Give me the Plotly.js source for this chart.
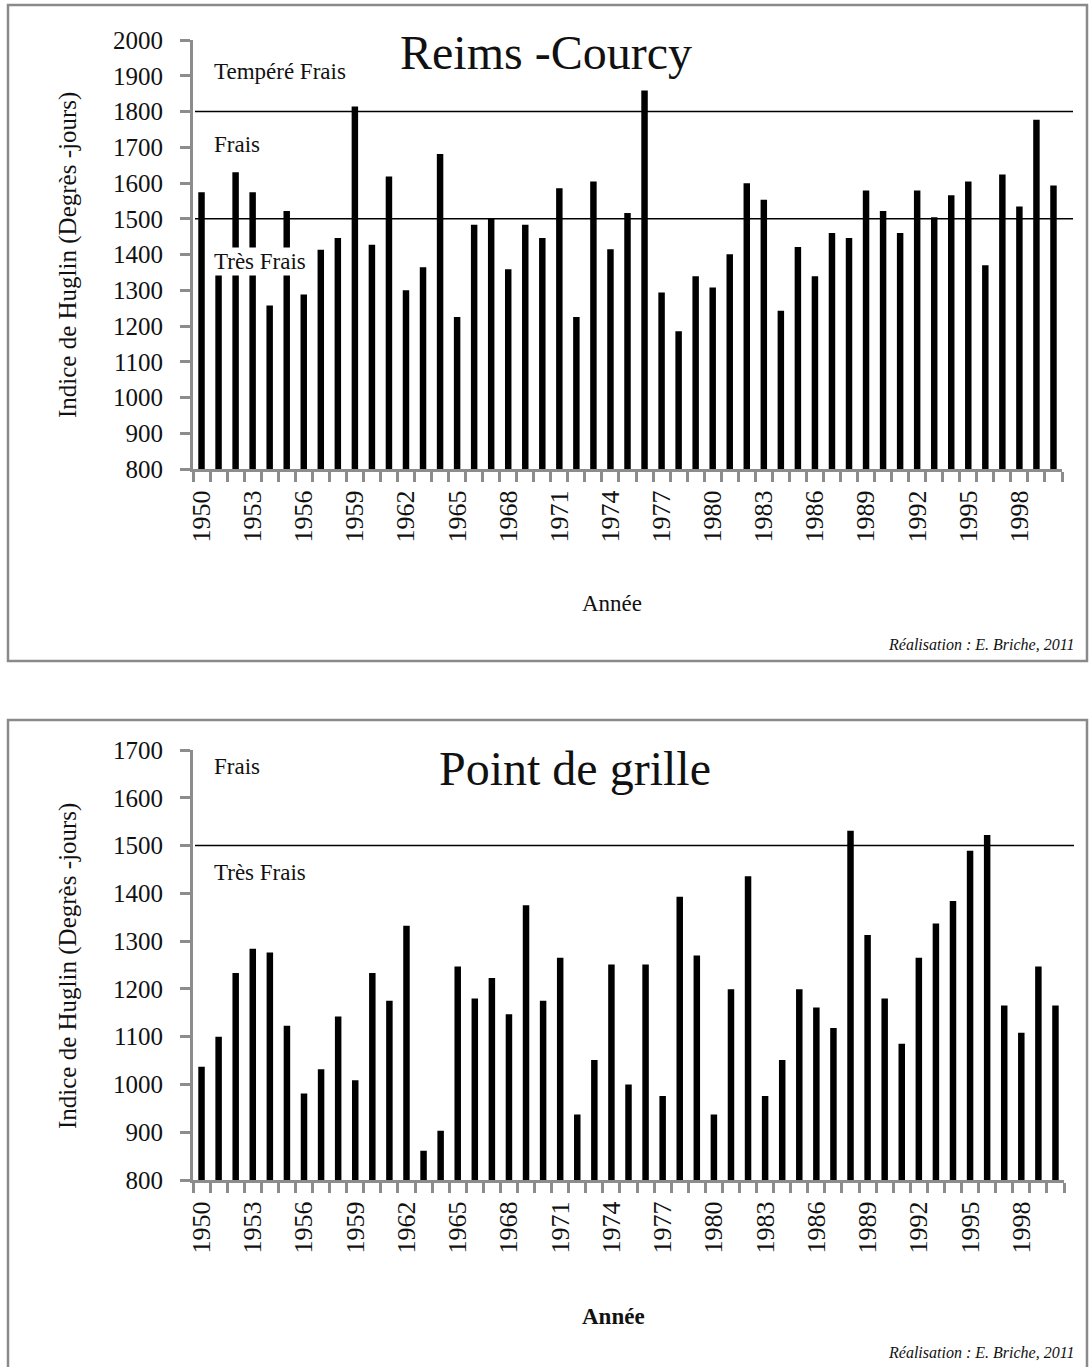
<!DOCTYPE html>
<html>
<head>
<meta charset="utf-8">
<script src="https://cdn.plot.ly/plotly-3.0.1.min.js"></script>
<style>
  html, body { margin: 0; padding: 0; background: #fff; }
  #chart { width: 1091px; height: 1367px; }
</style>
</head>
<body>
<div id="chart"></div>
<script>
// ---------- DATA ----------
const years = [1950,1951,1952,1953,1954,1955,1956,1957,1958,1959,
               1960,1961,1962,1963,1964,1965,1966,1967,1968,1969,
               1970,1971,1972,1973,1974,1975,1976,1977,1978,1979,
               1980,1981,1982,1983,1984,1985,1986,1987,1988,1989,
               1990,1991,1992,1993,1994,1995,1996,1997,1998,1999,2000];

// Indice de Huglin - Reims-Courcy
const reimsCourcy = [1574,1370,1630,1574,1257,1522,1288,1413,1446,1814,
                     1427,1618,1300,1364,1681,1225,1483,1500,1359,1483,
                     1446,1585,1225,1604,1415,1516,1859,1294,1185,1339,
                     1308,1401,1599,1553,1243,1421,1339,1460,1446,1579,
                     1522,1460,1579,1504,1566,1604,1370,1624,1534,1777,1593];

// Indice de Huglin - Point de grille
const pointGrille = [1037,1100,1233,1284,1276,1123,981,1032,1142,1009,
                     1233,1175,1332,861,903,1247,1180,1223,1147,1375,
                     1175,1265,937,1051,1251,1000,1251,976,1393,1270,
                     937,1199,1436,976,1051,1199,1161,1118,1531,1313,
                     1180,1085,1265,1337,1384,1489,1522,1165,1108,1247,1165];

const tickYears = [1950,1953,1956,1959,1962,1965,1968,1971,1974,1977,
                   1980,1983,1986,1989,1992,1995,1998];
const tickLabels = ["1950","1953","1956","1959","1962","1965","1968","1971","1974","1977",
                    "1980","1983","1986","1989","1992","1995","1998"];

// class thresholds
const topThresholds = [1800, 1500];
const bottomThresholds = [1500];
const topClassLabels = ["Tempéré Frais", "Frais", "Très Frais"];
const bottomClassLabels = ["Frais", "Très Frais"];

const titleTop = "Reims -Courcy";
const titleBottom = "Point de grille";
const yTitle = "Indice de Huglin (Degrès -jours)";
const xTitle = "Année";
const credit = "Réalisation : E. Briche, 2011";

// ---------- LAYOUT HELPERS ----------
const W = 1091, H = 1367;
const px = x => x / W;
const py = y => 1 - y / H;
const FONT = "Liberation Serif";
const AXIS_GREY = "#8c8c8c";

const xCommon = {
  type: "linear",
  range: [1949.5, 2000.5],
  tickvals: tickYears,
  ticktext: tickLabels,
  tickangle: -90,
  ticks: "",
  ticklabelstandoff: 8,
  showgrid: false,
  zeroline: false,
  showline: true,
  linecolor: AXIS_GREY,
  linewidth: 3,
  tickfont: { family: FONT, size: 26, color: "#111" },
  minor: { tick0: 1949.5, dtick: 1, ticks: "outside", ticklen: 10, tickwidth: 3, tickcolor: AXIS_GREY, showgrid: false },
  fixedrange: true
};
const yCommon = {
  dtick: 100,
  ticks: "outside",
  ticklen: 10,
  tickwidth: 3,
  tickcolor: AXIS_GREY,
  ticklabelstandoff: 12,
  showline: true,
  linecolor: AXIS_GREY,
  linewidth: 3,
  showgrid: false,
  zeroline: false,
  tickfont: { family: FONT, size: 25, color: "#111" },
  fixedrange: true
};

const traces = [
  { type: "bar", x: years, y: reimsCourcy, xaxis: "x", yaxis: "y",
    marker: { color: "#000" }, hoverinfo: "x+y" },
  { type: "bar", x: years, y: pointGrille, xaxis: "x2", yaxis: "y2",
    marker: { color: "#000" }, hoverinfo: "x+y" }
];

const shapes = [];
// panel borders
shapes.push({ type: "rect", xref: "paper", yref: "paper",
  x0: px(8), x1: px(1087), y0: py(661), y1: py(5),
  line: { color: "#8a8a8a", width: 2.5 }, layer: "below" });
shapes.push({ type: "rect", xref: "paper", yref: "paper",
  x0: px(8), x1: px(1087), y0: py(1375), y1: py(720),
  line: { color: "#8a8a8a", width: 2.5 }, layer: "below" });
// threshold lines
topThresholds.forEach(v => shapes.push({ type: "line", xref: "paper", yref: "y",
  x0: px(195), x1: px(1073), y0: v, y1: v, line: { color: "#000", width: 1.6 } }));
bottomThresholds.forEach(v => shapes.push({ type: "line", xref: "paper", yref: "y2",
  x0: px(195), x1: px(1074), y0: v, y1: v, line: { color: "#000", width: 1.6 } }));

const ann = (text, x, y, size, opts = {}) => Object.assign({
  text, xref: "paper", yref: "paper", x: px(x), y: py(y),
  showarrow: false, font: { family: FONT, size, color: "#111" },
  xanchor: "left", yanchor: "middle"
}, opts);

const annotations = [
  ann(titleTop, 546, 52, 48, { xanchor: "center" }),
  ann(titleBottom, 575, 768, 48, { xanchor: "center" }),
  ann(topClassLabels[0], 212, 71, 23),
  ann(topClassLabels[1], 212, 144, 23),
  ann(topClassLabels[2], 212, 262, 23, { bgcolor: "#fff" }),
  ann(bottomClassLabels[0], 212, 766, 23),
  ann(bottomClassLabels[1], 212, 872, 23),
  ann(yTitle, 68, 255, 25, { xanchor: "center", textangle: -90 }),
  ann(yTitle, 68, 966, 25, { xanchor: "center", textangle: -90 }),
  ann(xTitle, 612, 603, 23, { xanchor: "center" }),
  ann("<b>" + xTitle + "</b>", 613, 1316, 23, { xanchor: "center" }),
  ann("<i>" + credit + "</i>", 1076, 645, 16, { xanchor: "right" }),
  ann("<i>" + credit + "</i>", 1076, 1352, 16, { xanchor: "right" })
];

const layout = {
  width: W, height: H,
  margin: { l: 0, r: 0, t: 0, b: 0 },
  font: { family: FONT, color: "#111" },
  paper_bgcolor: "#fff",
  plot_bgcolor: "rgba(0,0,0,0)",
  showlegend: false,
  bargap: 0.62,
  xaxis: Object.assign({}, xCommon, { domain: [px(193), px(1062)], anchor: "y" }),
  yaxis: Object.assign({}, yCommon, { domain: [py(469), py(40)], range: [800, 2000], anchor: "x" }),
  xaxis2: Object.assign({}, xCommon, { domain: [px(193), px(1064)], anchor: "y2" }),
  yaxis2: Object.assign({}, yCommon, { domain: [py(1180), py(750)], range: [800, 1700], anchor: "x2" }),
  shapes, annotations
};

Plotly.newPlot("chart", traces, layout, { displayModeBar: false, staticPlot: true });
</script>
</body>
</html>
